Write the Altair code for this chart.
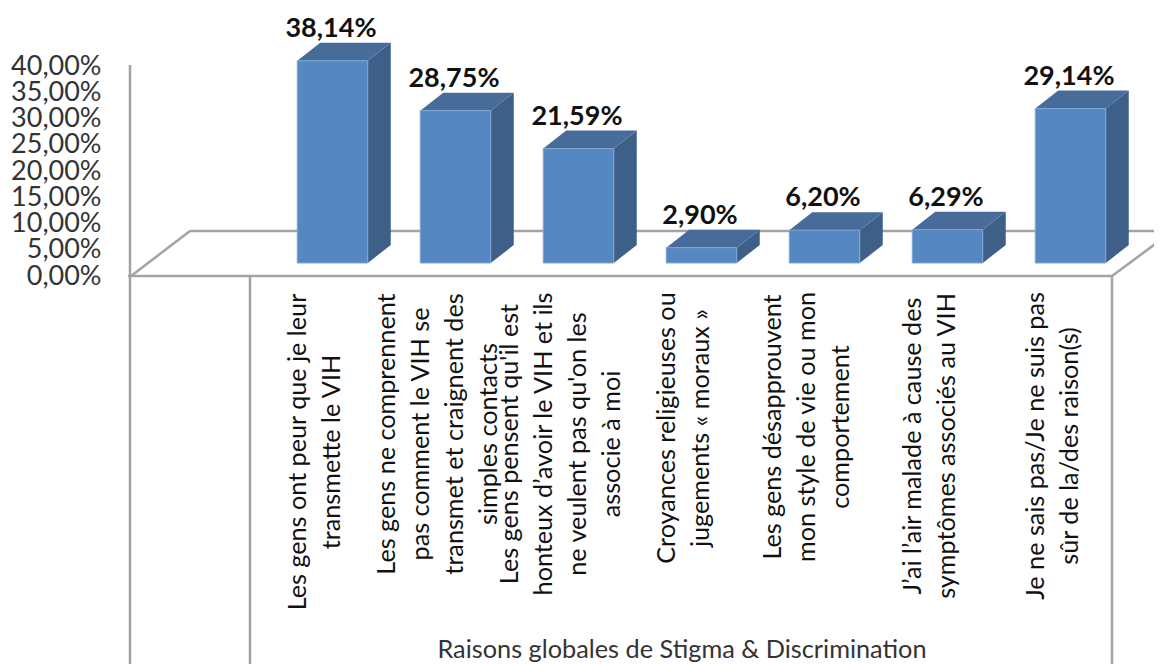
import altair as alt
import pandas as pd

categories = [
    "Les gens ont peur que je leur\ntransmette le VIH",
    "Les gens ne comprennent\npas comment le VIH se\ntransmet et craignent des\nsimples contacts",
    "Les gens pensent qu'il est\nhonteux d’avoir le VIH et ils\nne veulent pas qu'on les\nassocie à moi",
    "Croyances religieuses ou\njugements « moraux »",
    "Les gens désapprouvent\nmon style de vie ou mon\ncomportement",
    "J’ai l’air malade à cause des\nsymptômes associés au VIH",
    "Je ne sais pas/Je ne suis pas\nsûr de la/des raison(s)",
]
values = [38.14, 28.75, 21.59, 2.90, 6.20, 6.29, 29.14]
value_labels = ["38,14%", "28,75%", "21,59%", "2,90%", "6,20%", "6,29%", "29,14%"]
tick_values = [0, 5, 10, 15, 20, 25, 30, 35, 40]
axis_title = "Raisons globales de Stigma & Discrimination"
label_centres = [444, 426, 436, 420, 419, 438, 438]

W, H = 1146, 656
FONT = "Lato"
FRONT, SIDE, TOP = "#5587c0", "#3d5f88", "#476c9a"
LINE = "#a3a3a3"
LINE_H = 34

# layout: category spacing and bar/axis scales, expressed in pixels per unit
STEP, PX_BAR, PX_AXIS = 123.0, 5.3, 5.25
X0, BASE, AXIS0 = 324.5, 255.0, 268.0
HALF, DX, DY = 35.25 / STEP, 23.0 / STEP, 18.0 / PX_BAR

xscale = alt.Scale(domain=[-X0 / STEP, (W - X0) / STEP], nice=False, zero=False)
yscale = alt.Scale(domain=[-(H - BASE) / PX_BAR, BASE / PX_BAR], nice=False, zero=False)
axscale = alt.Scale(domain=[-(H - AXIS0) / PX_AXIS, AXIS0 / PX_AXIS], nice=False, zero=False)

bars = pd.DataFrame({
    "i": range(len(values)),
    "v": values,
    "label": value_labels,
    "cat": categories,
    "cy": label_centres,
})
bars["l"] = bars.i - HALF
bars["r"] = bars.i + HALF
bars["base"] = 0.0
bars["top"] = bars.v + DY
bars["tx"] = [
    i - (17.5 + (c.count("\n")) * LINE_H / 2) / STEP for i, c in enumerate(categories)
]


def X(f):
    return alt.X(f, type="quantitative", scale=xscale, axis=None)


def Y(f):
    return alt.Y(f, type="quantitative", scale=yscale, axis=None, stack=None)


def segment(x1, y1, x2, y2):
    return alt.Chart(pd.DataFrame({"a": [0]})).mark_rule(color=LINE, strokeWidth=2.5).encode(
        x=alt.value(x1 - 8), y=alt.value(y1 - 8), x2=alt.value(x2 - 8), y2=alt.value(y2 - 8)
    )


def face(rows, colour):
    return alt.Chart(pd.DataFrame(rows)).mark_area(
        color=colour, interpolate="linear", opacity=1
    ).encode(x=X("px"), y=Y("a"), y2=alt.Y2("b"))


faces = []
for i, v in enumerate(values):
    l, r = i - HALF, i + HALF
    faces.append(face([
        {"px": r, "a": 0.0, "b": v},
        {"px": r + DX, "a": DY, "b": v + DY},
    ], SIDE))
    faces.append(face([
        {"px": l, "a": v, "b": v},
        {"px": l + DX, "a": v, "b": v + DY},
        {"px": r, "a": v, "b": v + DY},
        {"px": r + DX, "a": v + DY, "b": v + DY},
    ], TOP))

frame = [
    segment(130, 65, 130, 664),
    segment(250, 276, 250, 664),
    segment(1112, 276, 1112, 664),
    segment(128, 276, 1112, 276),
    segment(131, 276, 190, 231),
    segment(190, 231, 1162, 231),
    segment(1112, 276, 1162, 239),
]

axis_layer = alt.Chart(pd.DataFrame({"t": tick_values})).mark_tick(opacity=0).encode(
    y=alt.Y("t:Q", scale=axscale, axis=alt.Axis(
        values=tick_values, orient="left", offset=-93, domain=False, ticks=False, grid=False,
        title=None, labelFontSize=27, labelFont=FONT, labelColor="#333333", labelPadding=0,
        labelOverlap=False, labelFlush=False, labelBaseline="middle",
        labelExpr="replace(format(datum.value, '.2f'), '.', ',') + '%'",
    )),
)

front = alt.Chart(bars).mark_rect(color=FRONT, stroke="#7fa6d6", strokeWidth=1).encode(
    x=X("l"), x2="r:Q", y=Y("base"), y2="v:Q")
val_text = alt.Chart(bars).mark_text(
    font=FONT, fontSize=27, fontWeight="bold", color="#111111", baseline="middle", dy=-14, dx=-1.5
).encode(x=X("i"), y=Y("top"), text="label:N")
cat_text = alt.Chart(bars).mark_text(
    font=FONT, fontSize=25.2, color="#111111", angle=270, align="center", baseline="middle",
    lineBreak="\n", lineHeight=LINE_H,
).encode(x=X("tx"), y=alt.Y("cy:Q", scale=None, axis=None), text="cat:N")
title_text = alt.Chart(pd.DataFrame({"t": [axis_title]})).mark_text(
    font=FONT, fontSize=25.3, color="#333333", align="center", baseline="middle"
).encode(x=alt.value(682 - 8), y=alt.value(650 - 8), text="t:N")

chart = alt.layer(
    *frame, axis_layer, *faces, front, val_text, cat_text, title_text
).resolve_scale(y="independent", x="shared").properties(
    width=W, height=H, padding=0, background="white", autosize=alt.AutoSizeParams(type="none")
).configure_view(stroke="transparent")

chart.save("out.html", embed_options={"renderer": "svg", "actions": False})
